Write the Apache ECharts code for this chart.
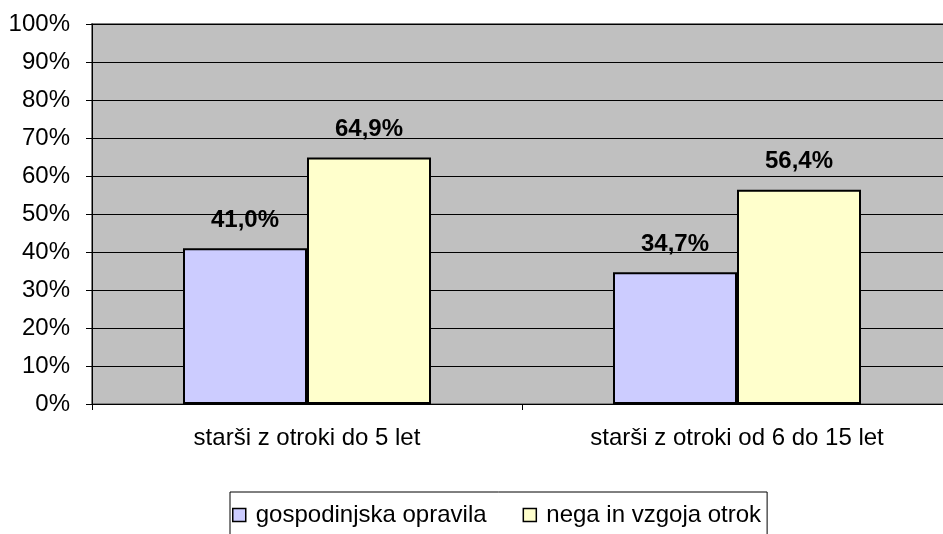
<!DOCTYPE html>
<html>
<head>
<meta charset="utf-8">
<script src="https://cdn.jsdelivr.net/npm/echarts@6/dist/echarts.min.js"></script>
<style>
  html, body { margin: 0; padding: 0; background: #fff; overflow: hidden; }
  /* plot area runs past the right edge of the window, as in the original */
  #chart { width: 960px; height: 534px; }
</style>
</head>
<body>
<div id="chart"></div>
<script>
// kategorije in vrednosti (v %)
var categories = ['starši z otroki do 5 let', 'starši z otroki od 6 do 15 let'];
var seriesNames = ['gospodinjska opravila', 'nega in vzgoja otrok'];
var gospodinjska = [41.0, 34.7];
var nega = [64.9, 56.4];

var myChart = echarts.init(document.getElementById('chart'));

function pct(params) {
  return params.value.toFixed(1).replace('.', ',') + '%';
}

myChart.setOption({
  animation: false,
  color: ['#CCCCFF', '#FFFFCC'],
  textStyle: { fontFamily: 'Liberation Sans, Arial, sans-serif' },
  grid: {
    left: 92,
    width: 860,
    top: 24,
    height: 380,
    outerBoundsMode: 'none',
    show: true,
    backgroundColor: '#C0C0C0',
    borderColor: '#808080',
    borderWidth: 2
  },
  legend: {
    data: seriesNames,
    left: 230,
    top: 492,
    itemWidth: 13,
    itemHeight: 13,
    itemGap: 36,
    padding: [11, 6, 14, 2],
    borderColor: '#000',
    borderWidth: 1,
    icon: 'rect',
    itemStyle: { borderColor: '#000', borderWidth: 1.5 },
    textStyle: { fontSize: 24, color: '#000', padding: [0, 0, 0, 5] }
  },
  xAxis: {
    type: 'category',
    data: categories,
    axisLine: { lineStyle: { color: '#000', width: 1 } },
    axisTick: { show: true, length: 6, lineStyle: { color: '#000' } },
    axisLabel: { color: '#000', fontSize: 24, margin: 22 },
    splitLine: { show: false }
  },
  yAxis: {
    type: 'value',
    min: 0,
    max: 100,
    interval: 10,
    axisLine: { show: true, lineStyle: { color: '#000', width: 1 } },
    axisTick: { show: true, length: 6, lineStyle: { color: '#000' } },
    axisLabel: {
      color: '#000',
      fontSize: 24,
      margin: 22,
      formatter: '{value}%'
    },
    splitLine: { show: true, lineStyle: { color: '#000', width: 1 } }
  },
  series: [
    {
      name: seriesNames[0],
      type: 'bar',
      barWidth: 124,
      barGap: '0%',
      data: gospodinjska,
      itemStyle: { borderColor: '#000', borderWidth: 2 },
      label: {
        show: true,
        position: 'top',
        distance: 16,
        color: '#000',
        fontWeight: 'bold',
        fontSize: 24,
        formatter: pct
      }
    },
    {
      name: seriesNames[1],
      type: 'bar',
      barWidth: 124,
      barGap: '0%',
      data: nega,
      itemStyle: { borderColor: '#000', borderWidth: 2 },
      label: {
        show: true,
        position: 'top',
        distance: 16,
        color: '#000',
        fontWeight: 'bold',
        fontSize: 24,
        formatter: pct
      }
    }
  ]
});
</script>
</body>
</html>
